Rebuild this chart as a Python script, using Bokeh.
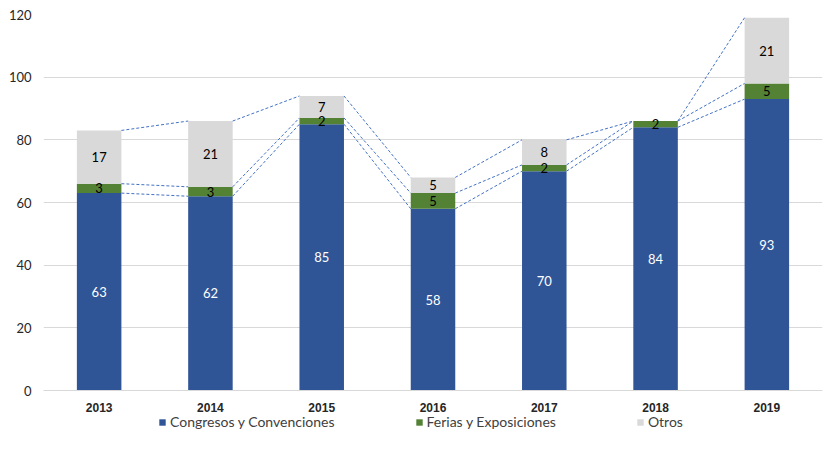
from bokeh.plotting import figure
from bokeh.layouts import column
from bokeh.models import Range1d, FixedTicker, Legend, LegendItem, ColumnDataSource
from bokeh.core.properties import value
from bokeh.embed import file_html
from bokeh.resources import INLINE

years = ["2013", "2014", "2015", "2016", "2017", "2018", "2019"]
congresos = [63, 62, 85, 58, 70, 84, 93]
ferias = [3, 3, 2, 5, 2, 2, 5]
otros = [17, 21, 7, 5, 8, 0, 21]
series_names = ["Congresos y Convenciones", "Ferias y Exposiciones", "Otros"]
colors = ["#2F5597", "#548235", "#D9D9D9"]
label_colors = ["white", "black", "black"]
y_ticks = [0, 20, 40, 60, 80, 100, 120]

FONT = "Lato"
xs = list(range(len(years)))
bw = 0.4

p = figure(width=836, height=414, output_backend="svg", toolbar_location=None,
           x_range=Range1d(-0.5, len(years) - 0.5), y_range=Range1d(0, 120),
           min_border_left=43, min_border_right=14, min_border_top=14, min_border_bottom=22)
p.outline_line_color = None
p.background_fill_color = "white"

src = ColumnDataSource(dict(x=xs, c=congresos, f=ferias, o=otros))
renderers = p.vbar_stack(["c", "f", "o"], x="x", width=bw, color=colors, source=src, line_color=None)

# series lines
data = [congresos, ferias, otros]
cum = []
run = [0] * len(years)
for s in data:
    run = [a + b for a, b in zip(run, s)]
    cum.append(run)
for tops in cum:
    for i in range(len(years) - 1):
        p.line([xs[i] + bw / 2, xs[i + 1] - bw / 2], [tops[i], tops[i + 1]],
               line_color="#4472C4", line_width=1, line_dash="3 2")

# data labels
base = [0] * len(years)
for s, lc in zip(data, label_colors):
    lx, ly, lt = [], [], []
    for i, v in enumerate(s):
        if v > 0:
            lx.append(xs[i]); ly.append(base[i] + v / 2); lt.append(str(v))
    base = [a + b for a, b in zip(base, s)]
    p.text(lx, ly, text=lt, text_align="center", text_baseline="middle",
           text_color=lc, text_font=value(FONT), text_font_size="13px")

# axes
p.xaxis.ticker = FixedTicker(ticks=xs)
p.xaxis.major_label_overrides = {i: y for i, y in enumerate(years)}
p.xaxis.major_tick_line_color = None
p.xaxis.minor_tick_line_color = None
p.xaxis.axis_line_color = "#D9D9D9"
p.xaxis.major_label_text_font = "Liberation Sans"
p.xaxis.major_label_text_font_style = "bold"
p.xaxis.major_label_text_font_size = "12px"
p.xaxis.major_label_text_color = "#262626"
p.xaxis.major_label_standoff = 6
p.xgrid.grid_line_color = None

p.yaxis.ticker = FixedTicker(ticks=y_ticks)
p.yaxis.axis_line_color = None
p.yaxis.major_tick_line_color = None
p.yaxis.minor_tick_line_color = None
p.yaxis.major_label_text_font = FONT
p.yaxis.major_label_text_font_size = "13px"
p.yaxis.major_label_text_color = "#262626"
p.yaxis.major_label_standoff = 6
p.ygrid.grid_line_color = "#D9D9D9"

# legend strip below the chart
lf = figure(width=836, height=41, output_backend="svg", toolbar_location=None,
            x_range=Range1d(0, 1), y_range=Range1d(0, 1),
            min_border_left=0, min_border_right=0, min_border_top=0, min_border_bottom=0)
lf.axis.visible = False
lf.grid.visible = False
lf.outline_line_color = None
dummy = [lf.vbar(x=[-5], top=[0], width=0.1, fill_color=c, line_color=None) for c in colors]
legend = Legend(items=[LegendItem(label=n, renderers=[r]) for n, r in zip(series_names, dummy)],
                orientation="horizontal", location=(115, 25), spacing=80,
                glyph_width=8, glyph_height=8, label_standoff=4, padding=0, margin=0,
                label_height=16, label_width=10,
                label_text_font=FONT, label_text_font_size="14px", label_text_color="#404040",
                border_line_color=None, background_fill_alpha=0)
lf.add_layout(legend, "center")

open("out.html", "w").write(file_html(column(p, lf, spacing=0), INLINE))
